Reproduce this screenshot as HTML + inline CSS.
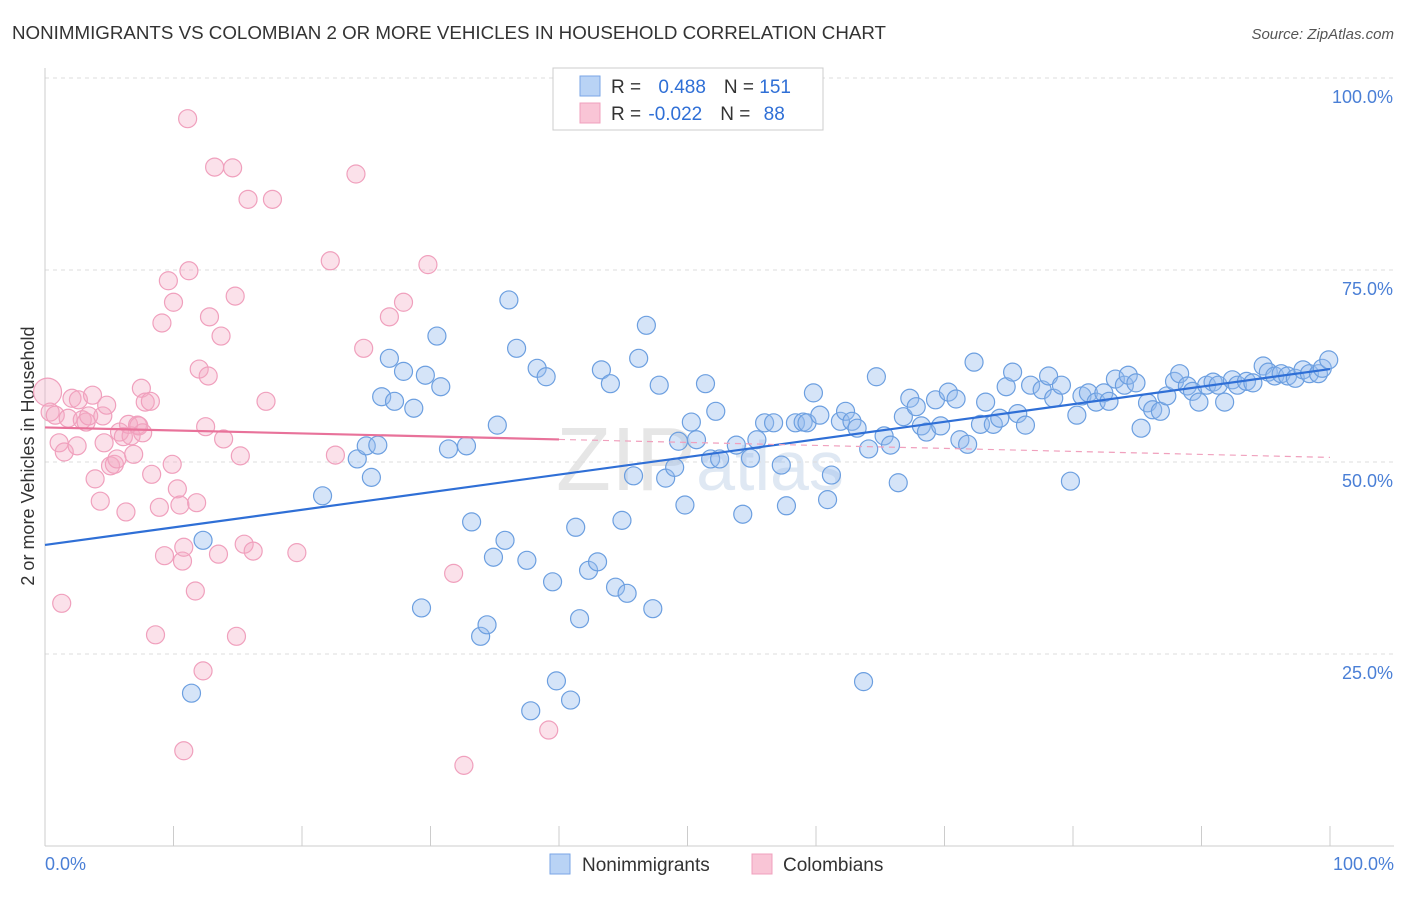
<!DOCTYPE html>
<html><head><meta charset="utf-8"><style>
body{margin:0;background:#fff;font-family:"Liberation Sans",sans-serif;}
svg text{font-family:"Liberation Sans",sans-serif;}
</style></head><body>
<svg id="chart" width="1406" height="892">
<text x="12" y="39" font-size="18" fill="#333" textLength="874" lengthAdjust="spacingAndGlyphs">NONIMMIGRANTS VS COLOMBIAN 2 OR MORE VEHICLES IN HOUSEHOLD CORRELATION CHART</text>
<text x="1394" y="39" font-size="15" fill="#555" text-anchor="end" font-style="italic">Source: ZipAtlas.com</text>
<text x="34" y="456" font-size="18" fill="#333" text-anchor="middle" transform="rotate(-90 34 456)">2 or more Vehicles in Household</text>
<text x="700" y="490" font-size="90" fill="#e6e6e6" text-anchor="middle" font-family="Liberation Serif">ZIP<tspan font-size="70" fill="#dfe8f3" font-family="Liberation Sans">atlas</tspan></text>
<g id="grid"></g><g id="ticks"></g><g id="pts"></g><g id="lines"></g>
<g>
<rect x="553" y="68" width="270" height="62" fill="#fff" stroke="#ccc"/>
<rect x="580" y="76" width="20" height="20" fill="#b9d3f5" stroke="#7aa6e6"/>
<rect x="580" y="103" width="20" height="20" fill="#f9c5d6" stroke="#f0a0bd"/>
<text x="611" y="93" font-size="19" fill="#333">R = <tspan fill="#2f6fd6" dx="12">0.488</tspan><tspan dx="18">N = </tspan><tspan fill="#2f6fd6">151</tspan></text>
<text x="611" y="120" font-size="19" fill="#333">R = <tspan fill="#2f6fd6" dx="2">-0.022</tspan><tspan dx="18">N = </tspan><tspan fill="#2f6fd6" dx="8">88</tspan></text>
</g>
<g>
<rect x="550" y="854" width="20" height="20" fill="#b9d3f5" stroke="#7aa6e6"/>
<text x="582" y="871" font-size="19" fill="#333">Nonimmigrants</text>
<rect x="752" y="854" width="20" height="20" fill="#f9c5d6" stroke="#f0a0bd"/>
<text x="783" y="871" font-size="19" fill="#333">Colombians</text>
</g>
<text x="45" y="870" font-size="18" fill="#4a7fd6">0.0%</text>
<text x="1394" y="870" font-size="18" fill="#4a7fd6" text-anchor="end">100.0%</text>
</svg>
<script>
const yTicks=[100,75,50,25];
const xTicks=[0,10,20,30,40,50,60,70,80,90,100];
const blueX=[191,203,323,357,366,371,378,382,389,395,403,414,421,425,437,441,449,467,471,480,487,494,497,505,509,516,527,537,546,553,557,531,570,576,580,588,597,602,610,616,622,627,634,639,647,653,659,666,675,678,685,691,697,705,710,716,720,736,743,751,757,764,773,781,787,795,803,807,813,820,827,831,840,846,852,857,864,869,877,884,890,898,903,910,916,922,927,936,941,948,956,960,967,974,981,986,993,1000,1006,1013,1018,1025,1031,1042,1049,1054,1061,1070,1077,1082,1088,1096,1104,1109,1116,1124,1128,1136,1141,1148,1153,1160,1167,1174,1180,1187,1193,1199,1206,1213,1218,1225,1232,1238,1246,1253,1263,1268,1275,1281,1288,1295,1303,1310,1318,1322,1329].map(p=>+((p-45)/12.85).toFixed(1));
const blueY=[693,540,496,459,446,477,445,397,358,401,371,408,608,375,336,387,449,446,522,636,625,557,425,540,300,348,560,368,377,582,681,711,700,527,619,570,562,370,384,587,520,593,476,358,325,609,385,478,467,441,505,422,440,384,459,411,459,445,514,458,440,423,423,465,506,423,422,423,393,415,500,475,421,411,421,428,682,449,377,436,445,483,417,398,407,426,432,400,426,392,399,440,444,362,424,402,424,418,387,372,414,425,385,390,376,398,385,481,415,396,393,402,393,401,379,385,375,383,428,403,410,411,396,381,374,386,391,402,385,382,385,402,380,385,381,383,366,372,376,374,376,378,370,374,374,368,360].map(p=>+((846-p)/7.68).toFixed(1));
const pinkX=[48,50,55,59,62,64,68,72,77,79,82,86,89,93,95,100,103,104,107,110,115,117,120,123,126,128,131,134,137,139,141,143,145,150,152,155,159,162,165,169,172,174,177,180,182,184,187,189,195,197,199,203,205,208,210,214,218,221,224,232,235,237,240,244,248,253,266,273,297,330,336,356,364,389,403,428,453,464,549,184].map(p=>+((p-45)/12.85).toFixed(1));
const pinkY=[392,412,415,443,603,452,418,398,446,400,420,422,416,395,479,501,416,443,405,466,464,459,432,437,512,424,436,454,425,426,388,433,402,401,474,635,507,323,556,281,464,302,489,505,561,547,119,271,591,503,369,671,427,376,317,167,554,336,439,168,296,636,456,544,199,551,401,199,553,261,455,174,348,317,302,265,573,765,730,751].map(p=>+((846-p)/7.68).toFixed(1));
const blueTrend=[39.2,62.1];
const pinkTrend=[54.5,50.6];
const NS='http://www.w3.org/2000/svg';
const X=v=>45+v*12.85, Y=v=>846-v*7.68;
function mk(t,a,parent){const e=document.createElementNS(NS,t);for(const k in a)e.setAttribute(k,a[k]);document.getElementById(parent).appendChild(e);return e;}
yTicks.forEach(t=>{
 const l=mk('line',{x1:45,x2:1394,y1:Y(t),y2:Y(t),stroke:'#ddd','stroke-dasharray':'4,4'},'grid');
 
 
 const tx=mk('text',{x:1393,y:Y(t)+25,'font-size':18,fill:'#4a7fd6','text-anchor':'end'},'grid');
 tx.textContent=t.toFixed(1)+'%';
 
 
});
const ax=mk('line',{x1:45,x2:45,y1:68,y2:846,stroke:'#ccc'},'ticks');


const bx=mk('line',{x1:45,x2:1394,y1:846,y2:846,stroke:'#ccc'},'ticks');


xTicks.forEach(t=>{
 const l=mk('line',{x1:X(t),x2:X(t),y1:826,y2:846,stroke:'#ccc'},'ticks');
 
 
});
pinkX.forEach((v,i)=>{
 const c=mk('circle',{cx:X(v),cy:Y(pinkY[i]),r:i==0?14:9,fill:'rgba(244,170,196,0.35)',stroke:'#f0a0bd','stroke-width':1.2},'pts');
 
 
});
blueX.forEach((v,i)=>{
 const c=mk('circle',{cx:X(v),cy:Y(blueY[i]),r:9,fill:'rgba(150,188,238,0.4)',stroke:'#6c9fe0','stroke-width':1.2},'pts');
 
 
});
const bl=mk('line',{x1:X(0),y1:Y(blueTrend[0]),x2:X(100),y2:Y(blueTrend[1]),stroke:'#2f6fd6','stroke-width':2.2},'lines');


const pAt=x=>pinkTrend[0]+(pinkTrend[1]-pinkTrend[0])*x/100;
const pl=mk('line',{x1:X(0),y1:Y(pAt(0)),x2:X(40),y2:Y(pAt(40)),stroke:'#e8729a','stroke-width':2.2},'lines');


const pd=mk('line',{x1:X(40),y1:Y(pAt(40)),x2:X(100),y2:Y(pAt(100)),stroke:'#f0a0bd','stroke-width':1.2,'stroke-dasharray':'6,5'},'lines');


</script>
</body></html>
